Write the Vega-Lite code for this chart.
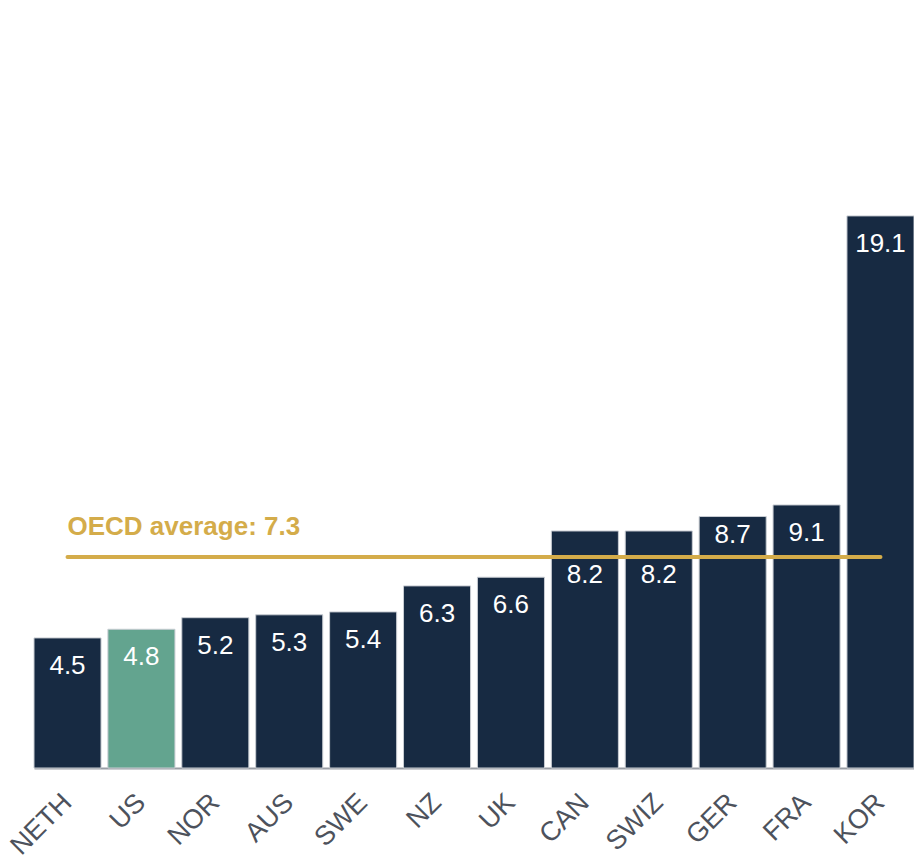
{
  "$schema": "https://vega.github.io/schema/vega-lite/v6.json",
  "width": 880,
  "height": 768,
  "autosize": {"type": "none"},
  "padding": {"left": 34, "top": 0, "right": 0, "bottom": 91},
  "background": "white",
  "config": {"view": {"stroke": null}, "font": "Liberation Sans"},
  "datasets": {
    "bars": [
      {"country": "NETH", "value": 4.5, "highlight": "no"},
      {"country": "US", "value": 4.8, "highlight": "yes"},
      {"country": "NOR", "value": 5.2, "highlight": "no"},
      {"country": "AUS", "value": 5.3, "highlight": "no"},
      {"country": "SWE", "value": 5.4, "highlight": "no"},
      {"country": "NZ", "value": 6.3, "highlight": "no"},
      {"country": "UK", "value": 6.6, "highlight": "no"},
      {"country": "CAN", "value": 8.2, "highlight": "no"},
      {"country": "SWIZ", "value": 8.2, "highlight": "no"},
      {"country": "GER", "value": 8.7, "highlight": "no"},
      {"country": "FRA", "value": 9.1, "highlight": "no"},
      {"country": "KOR", "value": 19.1, "highlight": "no"}
    ],
    "avg": [
      {"from": "NETH", "to": "KOR", "value": 7.3, "label": "OECD average: 7.3"}
    ]
  },
  "layer": [
    {
      "data": {"name": "bars"},
      "mark": {"type": "bar", "stroke": "#c9cdd3", "strokeWidth": 1},
      "encoding": {
        "x": {
          "field": "country", "type": "nominal", "sort": null,
          "scale": {"paddingInner": 0.093, "paddingOuter": 0},
          "axis": {
            "title": null, "labelAngle": -45, "ticks": false,
            "labelFontSize": 27, "labelColor": "#4d525c", "labelPadding": 30,
            "labelBaseline": "middle", "labelAlign": "right",
            "domainColor": "#9a9ea5", "domainWidth": 2, "labelFont": "Liberation Sans"
          }
        },
        "y": {
          "field": "value", "type": "quantitative",
          "scale": {"domain": [0, 26.57], "nice": false, "zero": true},
          "axis": null
        },
        "color": {
          "field": "highlight", "type": "nominal",
          "scale": {"domain": ["no", "yes"], "range": ["#172a42", "#63a48f"]},
          "legend": null
        }
      }
    },
    {
      "data": {"name": "avg"},
      "mark": {"type": "rule", "color": "#d4ac4a", "strokeWidth": 4, "strokeCap": "round"},
      "encoding": {
        "x": {"field": "from", "type": "nominal", "sort": null},
        "x2": {"field": "to"},
        "y": {"field": "value", "type": "quantitative"}
      }
    },
    {
      "data": {"name": "bars"},
      "transform": [{"filter": {"not": {"field": "country", "oneOf": ["CAN", "SWIZ", "GER"]}}}],
      "mark": {"type": "text", "color": "white", "fontSize": 26, "baseline": "middle", "dy": 28, "font": "Liberation Sans"},
      "encoding": {
        "x": {"field": "country", "type": "nominal", "sort": null},
        "y": {"field": "value", "type": "quantitative"},
        "text": {"field": "value", "type": "quantitative", "format": ".1f"}
      }
    },
    {
      "data": {"name": "bars"},
      "transform": [{"filter": {"field": "country", "oneOf": ["CAN", "SWIZ"]}}],
      "mark": {"type": "text", "color": "white", "fontSize": 26, "baseline": "middle", "dy": 44, "font": "Liberation Sans"},
      "encoding": {
        "x": {"field": "country", "type": "nominal", "sort": null},
        "y": {"field": "value", "type": "quantitative"},
        "text": {"field": "value", "type": "quantitative", "format": ".1f"}
      }
    },
    {
      "data": {"name": "bars"},
      "transform": [{"filter": {"field": "country", "oneOf": ["GER"]}}],
      "mark": {"type": "text", "color": "white", "fontSize": 26, "baseline": "middle", "dy": 18, "font": "Liberation Sans"},
      "encoding": {
        "x": {"field": "country", "type": "nominal", "sort": null},
        "y": {"field": "value", "type": "quantitative"},
        "text": {"field": "value", "type": "quantitative", "format": ".1f"}
      }
    },
    {
      "data": {"name": "avg"},
      "mark": {"type": "text", "color": "#d4ac4a", "fontSize": 26, "fontWeight": "bold", "align": "left", "baseline": "middle", "dy": -30, "font": "Liberation Sans"},
      "encoding": {
        "x": {"field": "from", "type": "nominal", "sort": null},
        "y": {"field": "value", "type": "quantitative"},
        "text": {"field": "label"}
      }
    }
  ]
}
